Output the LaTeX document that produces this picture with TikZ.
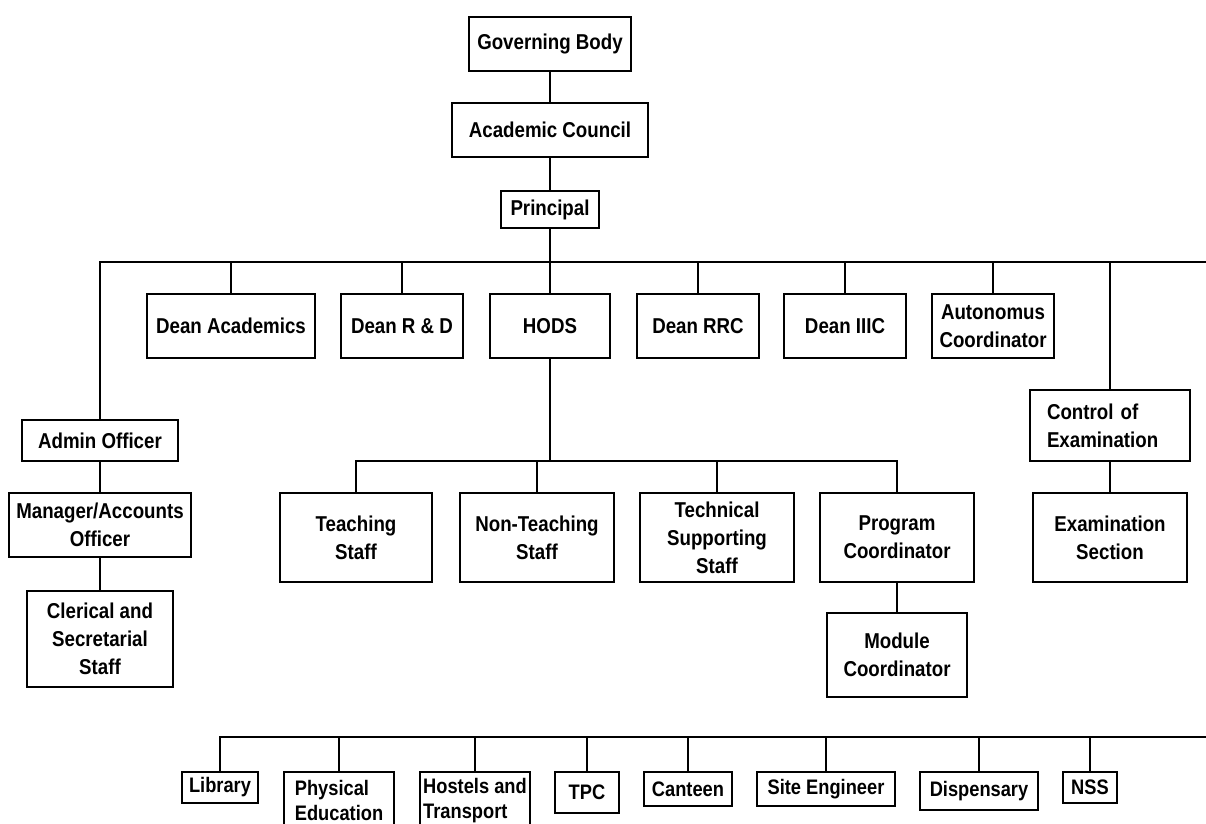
\documentclass[tikz,border=0pt]{standalone}
\usepackage{fontspec}
\setmainfont{Liberation Sans}[FakeStretch=0.87]
\begin{document}
\begin{tikzpicture}[x=1pt,y=-1pt,
  box/.style={draw, line width=2pt, inner sep=0pt, align=center,
    font=\bfseries\fontsize{21.5}{28}\selectfont},
  lowbox/.style={box, font=\bfseries\fontsize{21}{25}\selectfont},
  link/.style={line width=2pt}]
\useasboundingbox (0,0) rectangle (1206,823);
\clip (0,0) rectangle (1206,823);
\fill[white] (0,0) rectangle (1206,823);

% top column
\node[box, minimum width=162pt, minimum height=54pt] (gov) at (550,44) {Governing Body};
\node[box, minimum width=196pt, minimum height=54pt] (acad) at (550,130) {Academic Council};
\node[box, minimum width=98pt, minimum height=37pt] (prin) at (550,209.5) {Principal};

% second level
\node[box, minimum width=168pt, minimum height=64pt] (dacad) at (231,326) {Dean Academics};
\node[box, minimum width=122pt, minimum height=64pt] (drd) at (402,326) {Dean R \& D};
\node[box, minimum width=120pt, minimum height=64pt] (hods) at (550,326) {HODS};
\node[box, minimum width=122pt, minimum height=64pt] (drrc) at (698,326) {Dean RRC};
\node[box, minimum width=122pt, minimum height=64pt] (diiic) at (845,326) {Dean IIIC};
\node[box, minimum width=122pt, minimum height=64pt] (auto) at (993,326) {Autonomus\\Coordinator};

% right column
\node[box, align=left, text width=126pt, minimum width=160pt, minimum height=71pt] (ctrl) at (1110,425.5) {Control of\\Examination};
\node[box, minimum width=154pt, minimum height=89pt] (exam) at (1110,537.5) {Examination\\Section};

% left column
\node[box, minimum width=156pt, minimum height=41pt] (admin) at (100,440.5) {Admin Officer};
\node[box, minimum width=182pt, minimum height=64pt] (mgr) at (100,525) {Manager/Accounts\\Officer};
\node[box, minimum width=146pt, minimum height=96pt] (cler) at (100,639) {Clerical and\\Secretarial\\Staff};

% HODS staff
\node[box, minimum width=152pt, minimum height=89pt] (teach) at (356,537.5) {Teaching\\Staff};
\node[box, minimum width=154pt, minimum height=89pt] (nont) at (537,537.5) {Non-Teaching\\Staff};
\node[box, minimum width=154pt, minimum height=89pt] (tech) at (717,537.5) {Technical\\Supporting\\Staff};
\node[box, minimum width=154pt, minimum height=89pt] (prog) at (897,537.5) {Program\\Coordinator};
\node[box, minimum width=140pt, minimum height=84pt] (mod) at (897,655) {Module\\Coordinator};

% bottom row
\node[lowbox, minimum width=76pt, minimum height=31pt] (lib) at (220,787.5) {Library};
\node[lowbox, align=left, minimum width=110pt, minimum height=57pt] (phys) at (339,800.5) {Physical\\Education};
\node[lowbox, align=left, minimum width=110pt, minimum height=57pt] (host) at (475,800.5) {Hostels and\\Transport};
\node[lowbox, minimum width=64pt, minimum height=41pt] (tpc) at (587,792.5) {TPC};
\node[lowbox, minimum width=88pt, minimum height=34pt] (cant) at (688,789) {Canteen};
\node[lowbox, minimum width=138pt, minimum height=34pt] (site) at (826,789) {Site Engineer};
\node[lowbox, minimum width=118pt, minimum height=38pt] (disp) at (979,791) {Dispensary};
\node[lowbox, minimum width=54pt, minimum height=31pt] (nss) at (1090,787.5) {NSS};

% bus coordinates
\coordinate (busR) at (1212,262);
\coordinate (sub) at (550,461);
\coordinate (bb) at (1212,737);

% connectors
\draw[link] (gov.south) -- (acad.north);
\draw[link] (acad.south) -- (prin.north);
\draw[link] (prin.south) -- (hods.north);
\draw[link] (admin.north) |- (busR);
\draw[link] (dacad.north) -- (dacad.north |- busR);
\draw[link] (drd.north) -- (drd.north |- busR);
\draw[link] (drrc.north) -- (drrc.north |- busR);
\draw[link] (diiic.north) -- (diiic.north |- busR);
\draw[link] (auto.north) -- (auto.north |- busR);
\draw[link] (ctrl.north) -- (ctrl.north |- busR);
\draw[link] (ctrl.south) -- (exam.north);
\draw[link] (admin.south) -- (mgr.north);
\draw[link] (mgr.south) -- (cler.north);
\draw[link] (hods.south) -- (sub);
\draw[link] (teach.north) |- (prog.north |- sub) -- (prog.north);
\draw[link] (nont.north) -- (nont.north |- sub);
\draw[link] (tech.north) -- (tech.north |- sub);
\draw[link] (prog.south) -- (mod.north);
\draw[link] (lib.north) |- (bb);
\draw[link] (phys.north) -- (phys.north |- bb);
\draw[link] (host.north) -- (host.north |- bb);
\draw[link] (tpc.north) -- (tpc.north |- bb);
\draw[link] (cant.north) -- (cant.north |- bb);
\draw[link] (site.north) -- (site.north |- bb);
\draw[link] (disp.north) -- (disp.north |- bb);
\draw[link] (nss.north) -- (nss.north |- bb);
\end{tikzpicture}
\end{document}
